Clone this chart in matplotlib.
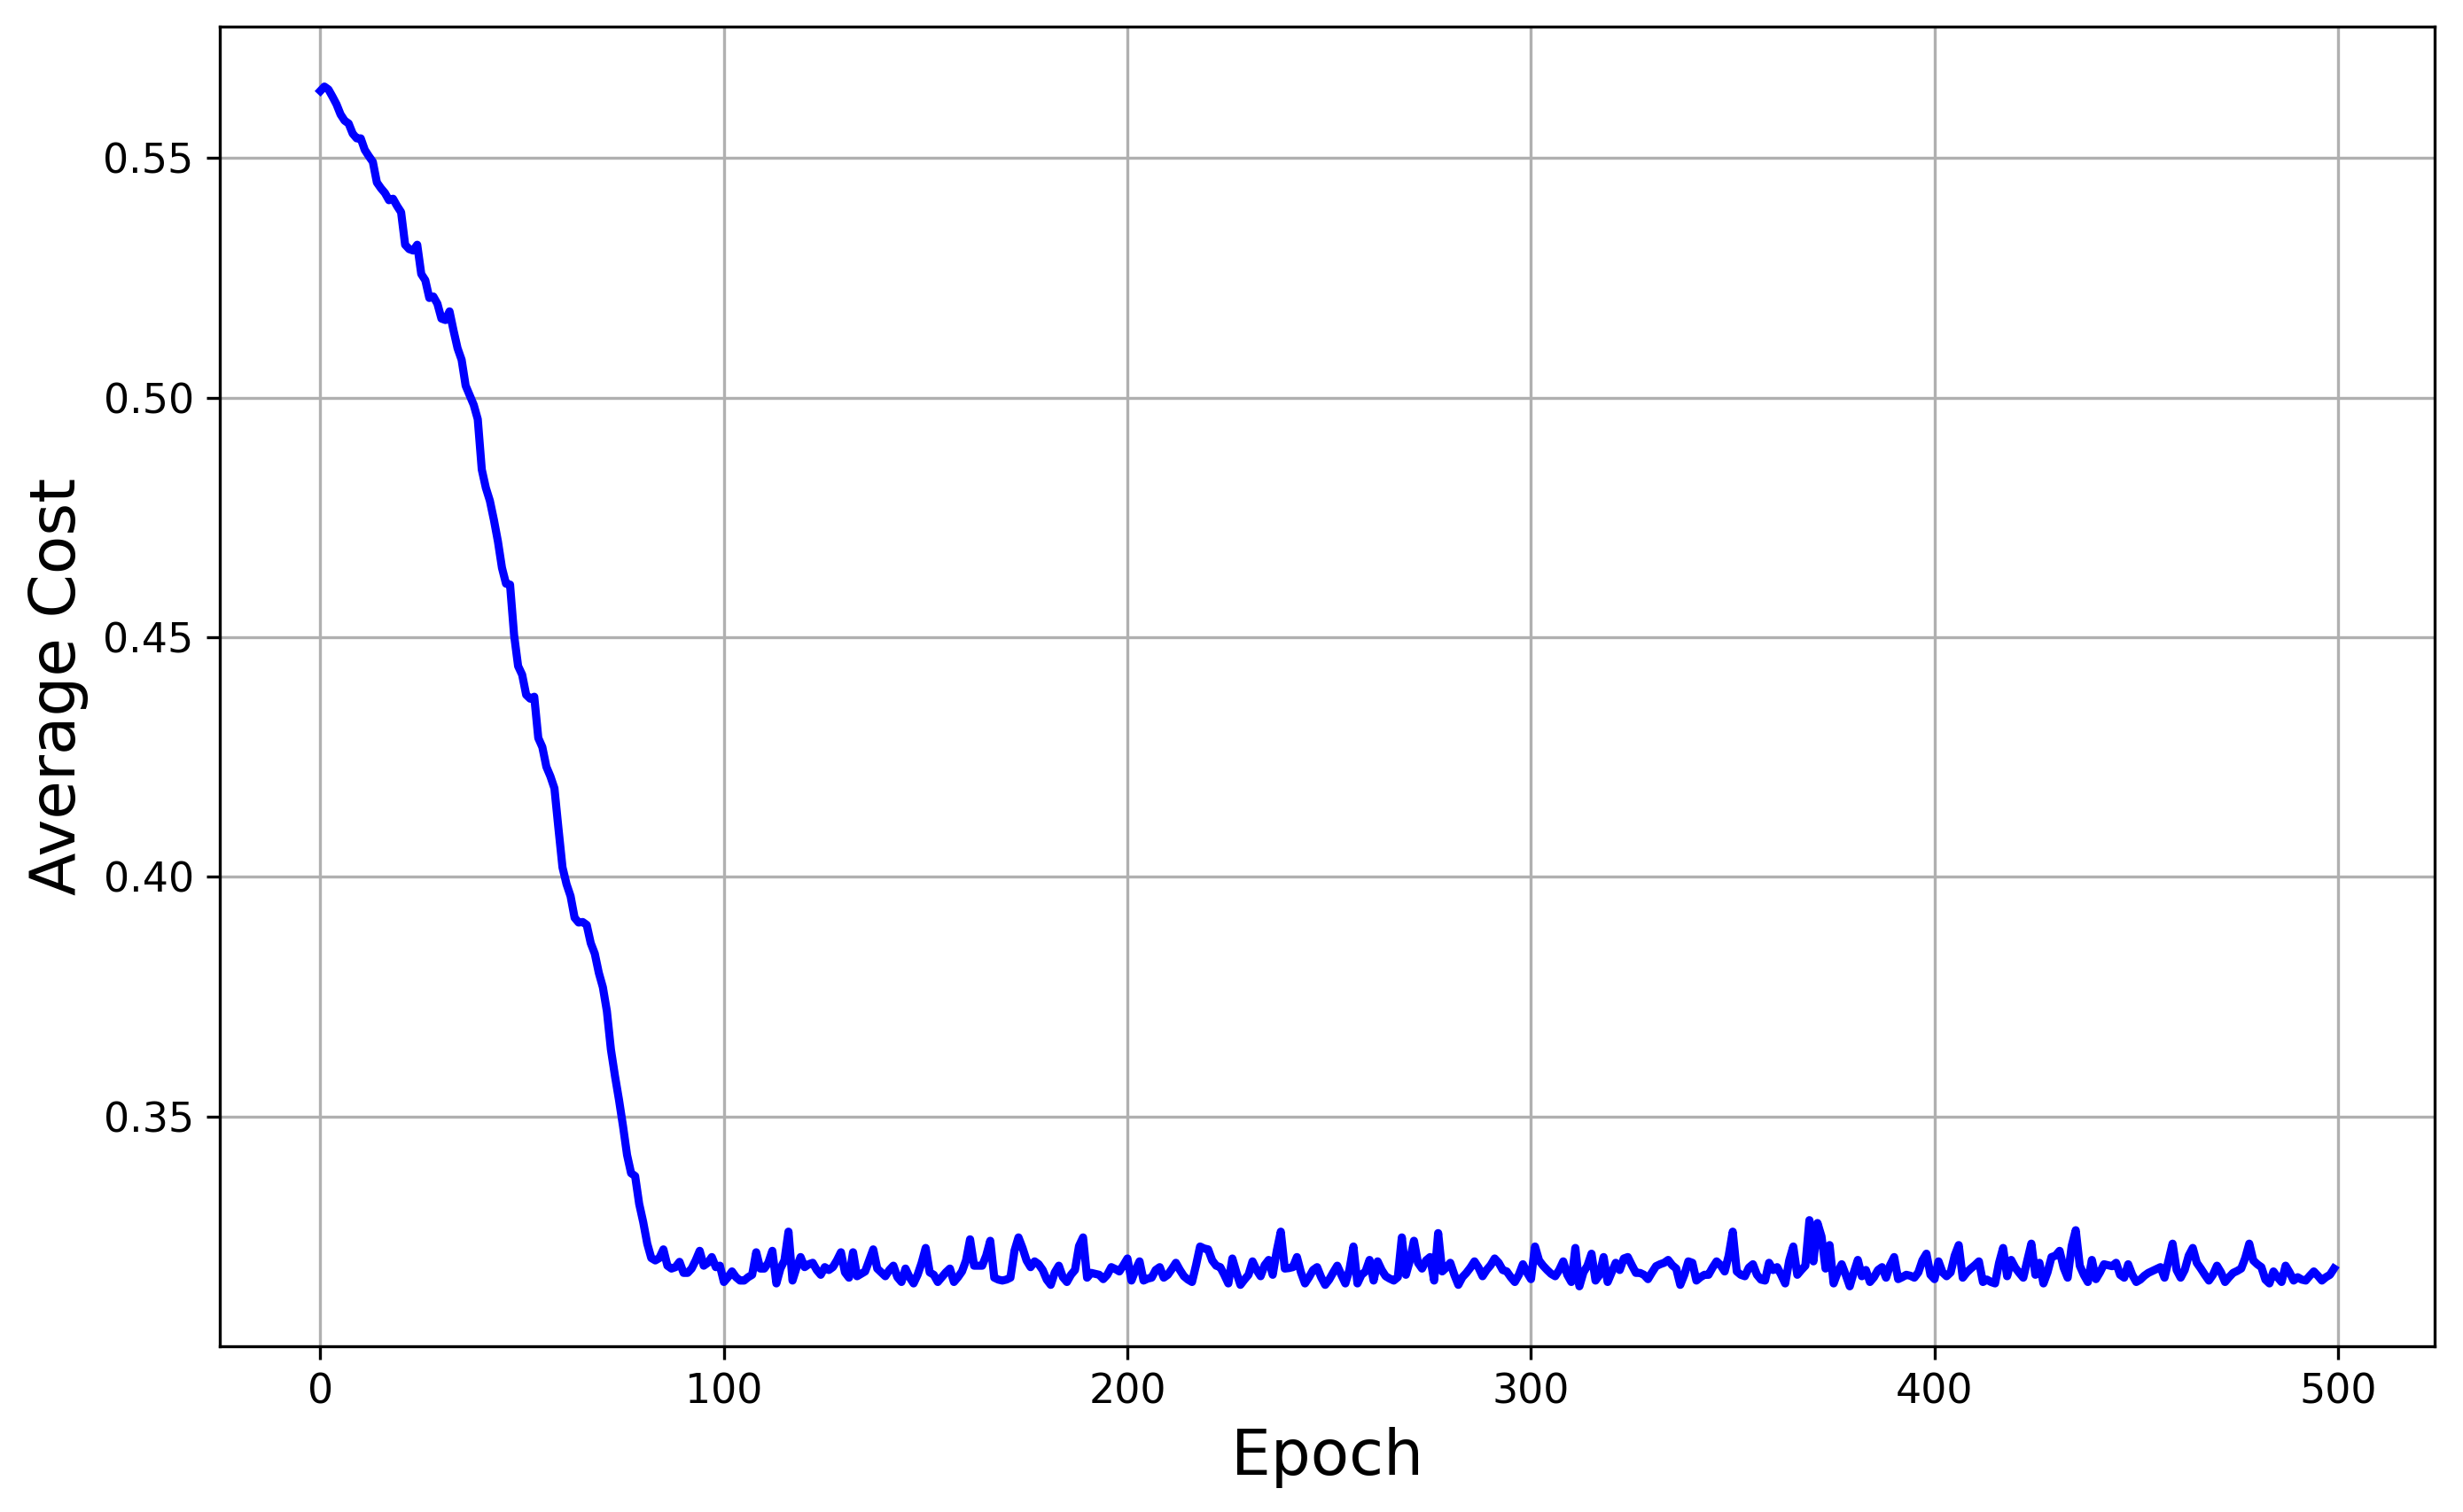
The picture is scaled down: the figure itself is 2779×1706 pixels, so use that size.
import numpy as np
import matplotlib
matplotlib.use("Agg")
import matplotlib.pyplot as plt

# average cost per epoch
avg_cost = [
    0.5640, 0.5649, 0.5643, 0.5628, 0.5612, 0.5591, 0.5578, 0.5572, 0.5551, 0.5541,
    0.5541, 0.5517, 0.5504, 0.5492, 0.5449, 0.5437, 0.5427, 0.5412, 0.5415, 0.5400,
    0.5387, 0.5319, 0.5310, 0.5307, 0.5319, 0.5258, 0.5245, 0.5208, 0.5211, 0.5196,
    0.5165, 0.5162, 0.5180, 0.5140, 0.5103, 0.5079, 0.5025, 0.5005, 0.4985, 0.4955,
    0.4850, 0.4812, 0.4785, 0.4745, 0.4700, 0.4645, 0.4612, 0.4610, 0.4505, 0.4440,
    0.4422, 0.4380, 0.4372, 0.4376, 0.4290, 0.4271, 0.4230, 0.4210, 0.4185, 0.4101,
    0.4020, 0.3985, 0.3960, 0.3915, 0.3905, 0.3906, 0.3900, 0.3862, 0.3840, 0.3800,
    0.3770, 0.3720, 0.3640, 0.3585, 0.3535, 0.3480, 0.3420, 0.3382, 0.3376, 0.3318,
    0.3280, 0.3235, 0.3205, 0.3200, 0.3205, 0.3223, 0.3189, 0.3183, 0.3186, 0.3197,
    0.3174, 0.3174, 0.3183, 0.3200, 0.3220, 0.3189, 0.3195, 0.3207, 0.3186, 0.3189,
    0.3155, 0.3165, 0.3177, 0.3165, 0.3158, 0.3158, 0.3165, 0.3170, 0.3217, 0.3183,
    0.3183, 0.3195, 0.3220, 0.3152, 0.3183, 0.3200, 0.3260, 0.3158, 0.3185, 0.3207,
    0.3186, 0.3192, 0.3195, 0.3180, 0.3170, 0.3186, 0.3180, 0.3186, 0.3200, 0.3217,
    0.3175, 0.3164, 0.3217, 0.3167, 0.3172, 0.3177, 0.3200, 0.3223, 0.3183, 0.3175,
    0.3167, 0.3180, 0.3189, 0.3165, 0.3155, 0.3183, 0.3165, 0.3152, 0.3170, 0.3195,
    0.3226, 0.3175, 0.3170, 0.3155, 0.3165, 0.3175, 0.3183, 0.3155, 0.3165, 0.3177,
    0.3200, 0.3244, 0.3189, 0.3189, 0.3189, 0.3210, 0.3241, 0.3164, 0.3160, 0.3158,
    0.3160, 0.3164, 0.3220, 0.3248, 0.3226, 0.3200, 0.3186, 0.3198, 0.3192, 0.3180,
    0.3160, 0.3149, 0.3175, 0.3189, 0.3165, 0.3155, 0.3170, 0.3180, 0.3230, 0.3248,
    0.3164, 0.3174, 0.3172, 0.3170, 0.3161, 0.3170, 0.3186, 0.3182, 0.3177, 0.3190,
    0.3204, 0.3158, 0.3180, 0.3198, 0.3158, 0.3162, 0.3164, 0.3180, 0.3186, 0.3164,
    0.3170, 0.3182, 0.3195, 0.3180, 0.3167, 0.3160, 0.3155, 0.3190, 0.3229, 0.3225,
    0.3223, 0.3200, 0.3189, 0.3186, 0.3170, 0.3152, 0.3204, 0.3175, 0.3149, 0.3160,
    0.3170, 0.3198, 0.3180, 0.3167, 0.3190, 0.3201, 0.3170, 0.3220, 0.3260, 0.3183,
    0.3184, 0.3186, 0.3207, 0.3175, 0.3152, 0.3165, 0.3180, 0.3186, 0.3165, 0.3149,
    0.3160, 0.3175, 0.3189, 0.3170, 0.3152, 0.3180, 0.3229, 0.3152, 0.3170, 0.3177,
    0.3201, 0.3158, 0.3198, 0.3180, 0.3167, 0.3162, 0.3158, 0.3165, 0.3248, 0.3170,
    0.3200, 0.3241, 0.3195, 0.3183, 0.3200, 0.3207, 0.3158, 0.3257, 0.3177, 0.3185,
    0.3195, 0.3170, 0.3149, 0.3165, 0.3174, 0.3185, 0.3198, 0.3185, 0.3167, 0.3180,
    0.3190, 0.3204, 0.3195, 0.3180, 0.3177, 0.3165, 0.3155, 0.3170, 0.3192, 0.3175,
    0.3161, 0.3229, 0.3200, 0.3189, 0.3180, 0.3172, 0.3167, 0.3180, 0.3198, 0.3170,
    0.3155, 0.3226, 0.3146, 0.3175, 0.3189, 0.3214, 0.3158, 0.3170, 0.3207, 0.3155,
    0.3175, 0.3195, 0.3180, 0.3204, 0.3207, 0.3190, 0.3174, 0.3174, 0.3170, 0.3161,
    0.3175, 0.3188, 0.3192, 0.3195, 0.3201, 0.3190, 0.3183, 0.3149, 0.3170, 0.3198,
    0.3195, 0.3158, 0.3165, 0.3170, 0.3170, 0.3185, 0.3198, 0.3190, 0.3177, 0.3210,
    0.3260, 0.3177, 0.3170, 0.3167, 0.3185, 0.3192, 0.3170, 0.3160, 0.3158, 0.3195,
    0.3180, 0.3186, 0.3170, 0.3152, 0.3200, 0.3229, 0.3170, 0.3180, 0.3189, 0.3284,
    0.3198, 0.3278, 0.3250, 0.3183, 0.3232, 0.3152, 0.3175, 0.3192, 0.3170, 0.3146,
    0.3175, 0.3201, 0.3167, 0.3180, 0.3155, 0.3165, 0.3180, 0.3186, 0.3164, 0.3190,
    0.3207, 0.3161, 0.3165, 0.3170, 0.3168, 0.3164, 0.3175, 0.3200, 0.3214, 0.3170,
    0.3161, 0.3198, 0.3175, 0.3167, 0.3175, 0.3210, 0.3232, 0.3164, 0.3175, 0.3183,
    0.3190, 0.3198, 0.3155, 0.3160, 0.3155, 0.3152, 0.3195, 0.3226, 0.3167, 0.3201,
    0.3185, 0.3174, 0.3164, 0.3200, 0.3235, 0.3170, 0.3195, 0.3152, 0.3175, 0.3207,
    0.3210, 0.3220, 0.3185, 0.3164, 0.3230, 0.3263, 0.3189, 0.3170, 0.3155, 0.3201,
    0.3161, 0.3175, 0.3192, 0.3190, 0.3188, 0.3195, 0.3170, 0.3164, 0.3192, 0.3170,
    0.3155, 0.3160, 0.3168, 0.3174, 0.3178, 0.3182, 0.3186, 0.3164, 0.3200, 0.3235,
    0.3180, 0.3164, 0.3180, 0.3210, 0.3226, 0.3195, 0.3183, 0.3170, 0.3158, 0.3170,
    0.3189, 0.3175, 0.3155, 0.3165, 0.3174, 0.3178, 0.3183, 0.3205, 0.3235, 0.3200,
    0.3192, 0.3186, 0.3160, 0.3152, 0.3177, 0.3165, 0.3155, 0.3189, 0.3175, 0.3158,
    0.3165, 0.3160, 0.3158, 0.3168, 0.3177, 0.3168, 0.3158, 0.3165, 0.3170, 0.3183,
]
epochs = np.arange(len(avg_cost))

fig = plt.figure(figsize=(2779 / 300, 1706 / 300), dpi=300)
ax = fig.add_axes([0.0892, 0.1096, 0.8993, 0.8728])

ax.plot(epochs, avg_cost, color="blue", linewidth=2.2)
ax.set_xlabel("Epoch", fontsize=17)
ax.set_ylabel("Average Cost", fontsize=17)
ax.tick_params(labelsize=11)
ax.grid(True)

fig.savefig("out.png", dpi=300)
